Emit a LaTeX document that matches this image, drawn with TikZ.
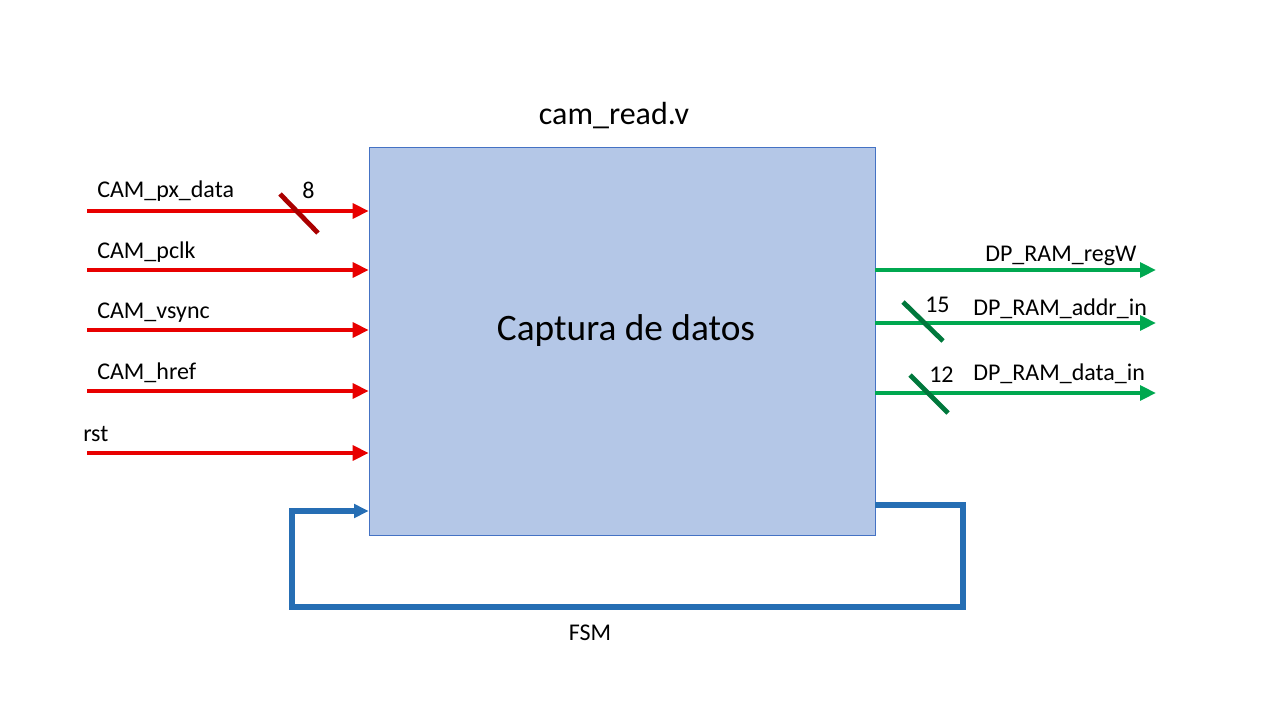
\documentclass[tikz,border=0pt]{standalone}
\usepackage{fontspec}
\setmainfont{Carlito}
\usetikzlibrary{arrows.meta, positioning}

\definecolor{boxfill}{RGB}{180,199,231}
\definecolor{boxedge}{RGB}{68,114,196}
\definecolor{sigred}{RGB}{232,0,0}
\definecolor{sigredd}{RGB}{170,0,0}
\definecolor{siggreen}{RGB}{0,168,80}
\definecolor{siggreend}{RGB}{0,120,60}
\definecolor{sigblue}{RGB}{38,110,180}

\tikzset{
    sigin/.style={draw=sigred, line width=3.5pt, -{Triangle[length=12pt, width=11pt]}},
    sigout/.style={draw=siggreen, line width=3.5pt, -{Triangle[length=12pt, width=11pt]}},
    busred/.style={draw=sigredd, line width=3.6pt},
    busgreen/.style={draw=siggreend, line width=3.6pt},
    lbl/.style={font=\fontsize{18}{20}\selectfont, inner sep=0pt}
}

\begin{document}
\begin{tikzpicture}[x=0.75pt, y=-0.75pt]
    \useasboundingbox (0,0) rectangle (1280,720);

    \node[draw=boxedge, fill=boxfill, minimum width=379.5pt, minimum height=291pt] (capture) at (622,341) {};
    \node[font=\fontsize{28}{30}\selectfont, inner sep=0pt] (captext) at (626,331) {Captura de datos};
    \node[font=\fontsize{24}{26}\selectfont, inner sep=0pt] (title) at (614,116) {cam\_read.v};

    % inputs
    \coordinate (in1) at (87,211);
    \coordinate (in2) at (87,270);
    \coordinate (in3) at (87,330);
    \coordinate (in4) at (87,391);
    \coordinate (in5) at (87,453);

    \foreach \n in {in1, in2, in3, in4, in5}
    \draw[sigin] (\n) -- (\n -| capture.west);

    \node[lbl, anchor=base west] (pxdata) at (97,198) {CAM\_px\_data};
    \node[lbl, anchor=base west] (pclk) at (97,258) {CAM\_pclk};
    \node[lbl, anchor=base west] (vsync) at (97,318) {CAM\_vsync};
    \node[lbl, anchor=base west] (href) at (97,379) {CAM\_href};
    \node[lbl, anchor=base west] (rst) at (83,441) {rst};

    \draw[busred] (280,194) -- (318,233);
    \node[lbl, anchor=base west] (w8) at (302,199) {8};

    % outputs
    \coordinate (out1) at (1156,270);
    \coordinate (out2) at (1156,323);
    \coordinate (out3) at (1156,393);

    \foreach \n in {out1, out2, out3}
    \draw[sigout] (\n -| capture.east) -- (\n);

    \node[lbl, anchor=base west] (regw) at (985,261) {DP\_RAM\_regW};
    \node[lbl, anchor=base west] (addrin) at (973,315) {DP\_RAM\_addr\_in};
    \node[lbl, anchor=base west] (datain) at (973,380) {DP\_RAM\_data\_in};

    \draw[busgreen] (903,302) -- (943,341);
    \node[lbl, anchor=base west] (w15) at (925,312) {15};
    \draw[busgreen] (910,375) -- (948,413);
    \node[lbl, anchor=base west] (w12) at (929,382) {12};

    % feedback
    \coordinate (fbout) at (875,505);
    \coordinate (fbin) at (292,511);
    \coordinate (fbr) at (963,607);
    \draw[draw=sigblue, line width=4pt, line join=miter,
          -{Triangle[length=11pt, width=10pt]}]
        (fbout) -| (fbr) -| (fbin) -- (fbin -| capture.west);
    \node[lbl] (fsm) at (590,633) {FSM};
\end{tikzpicture}
\end{document}
